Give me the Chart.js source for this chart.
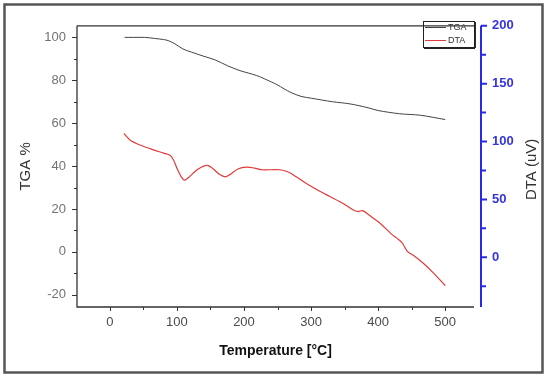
<!DOCTYPE html>
<html>
<head>
<meta charset="utf-8">
<script src="https://cdn.jsdelivr.net/npm/chart.js@4.4.1/dist/chart.umd.min.js"></script>
<style>
html,body{margin:0;padding:0;background:#fff;}
#wrap{width:550px;height:377px;position:relative;}
</style>
</head>
<body>
<div id="wrap"><canvas id="c" width="550" height="377"></canvas></div>
<script>
// ---- data ----
const tgaTemp = [22, 35, 52, 67, 80, 87, 97, 109, 122, 139, 157, 176, 194, 219, 241, 249, 260, 270, 285, 301, 332, 358, 385, 400, 432, 463, 500];
const tgaVals = [100, 100, 100, 99.5, 99, 98.5, 97, 94.6, 93.1, 91.3, 89.5, 86.7, 84.5, 82.2, 79.2, 78, 76, 74.3, 72.5, 71.6, 70, 69, 67.2, 65.9, 64.4, 63.7, 61.7];
const dtaTemp = [21, 23, 30, 45, 65, 80, 90, 95, 100, 106, 111, 117, 130, 142, 147, 154, 164, 172, 179, 191, 204, 216, 226, 253, 266, 278, 293, 313, 328, 348, 363, 370, 377, 387, 402, 415, 420, 435, 444, 452, 467, 482, 500];
const dtaVals = [107, 105.6, 101.4, 97, 92.8, 90, 88, 84, 77, 70, 66.7, 68.7, 75.6, 79.2, 79.2, 76.4, 71.4, 69.5, 71.4, 76.2, 77.8, 77, 75.6, 75.6, 73.7, 69.5, 63.7, 57, 52.5, 46.4, 40.8, 39.5, 40.3, 36.2, 29.8, 22.8, 20, 13, 4.8, 2, -5, -13.3, -24.4];
const seriesNames = ['TGA', 'DTA'];
const xTicks = [0, 100, 200, 300, 400, 500];
const tgaTicks = [-20, 0, 20, 40, 60, 80, 100];
const dtaTicks = [0, 50, 100, 150, 200];
const rightTitle = 'DTA (uV)';

const F = '"Liberation Sans", Arial, sans-serif';

const frame = {
  id: 'frame',
  beforeDraw(chart) {
    const ctx = chart.ctx;
    ctx.save();
    ctx.fillStyle = '#fff';
    ctx.fillRect(0, 0, chart.width, chart.height);
    ctx.restore();
  },
  afterDraw(chart) {
    const ctx = chart.ctx;
    const a = chart.chartArea;
    const xs = chart.scales.x, yl = chart.scales.y, yr = chart.scales.y2;
    ctx.save();
    // outer border
    ctx.strokeStyle = '#555';
    ctx.lineWidth = 2.5;
    ctx.strokeRect(4.5, 4.5, 538, 368);
    // axes frame (left, bottom, top)
    ctx.strokeStyle = '#333';
    ctx.lineWidth = 1.3;
    ctx.beginPath();
    ctx.moveTo(a.left, a.top); ctx.lineTo(a.left, a.bottom); ctx.lineTo(a.right, a.bottom);
    ctx.moveTo(a.left, a.top); ctx.lineTo(a.right, a.top);
    ctx.stroke();
    // left ticks (major & minor)
    ctx.lineWidth = 1;
    ctx.beginPath();
    for (let v = -20; v <= 100; v += 10) {
      const y = Math.round(yl.getPixelForValue(v)) + 0.5;
      const len = (v % 20 === 0) ? 5 : 3;
      ctx.moveTo(a.left, y); ctx.lineTo(a.left - len, y);
    }
    for (let v = 0; v <= 500; v += 50) {
      const x = Math.round(xs.getPixelForValue(v)) + 0.5;
      const len = (v % 100 === 0) ? 4 : 3;
      ctx.moveTo(x, a.bottom); ctx.lineTo(x, a.bottom + len);
    }
    ctx.stroke();
    // right blue axis
    const bx = a.right + 7;
    ctx.strokeStyle = '#2a2ae6';
    ctx.lineWidth = 2;
    ctx.beginPath();
    ctx.moveTo(bx, a.top); ctx.lineTo(bx, a.bottom);
    for (let v = -25; v <= 200; v += 25) {
      const y = yr.getPixelForValue(v);
      const len = (v % 50 === 0) ? 6 : 5;
      ctx.moveTo(bx, y); ctx.lineTo(bx + len, y);
    }
    ctx.stroke();
    // right axis title (reads bottom to top)
    ctx.save();
    ctx.translate(532, (a.top + a.bottom) / 2 + 3);
    ctx.rotate(-Math.PI / 2);
    ctx.fillStyle = '#333';
    ctx.font = '15px ' + F;
    ctx.textAlign = 'center';
    ctx.textBaseline = 'middle';
    ctx.fillText(rightTitle, 0, 0);
    ctx.restore();
    // legend box
    const lx = 423, ly = 21, lw = 51, lh = 26;
    ctx.strokeStyle = '#222';
    ctx.lineWidth = 1;
    ctx.strokeRect(lx + 0.5, ly + 0.5, lw, lh);
    ctx.lineWidth = 1.5;
    ctx.beginPath();
    ctx.moveTo(lx + 1, ly + lh + 1.2); ctx.lineTo(lx + lw + 1, ly + lh + 1.2);
    ctx.moveTo(lx + lw + 1.2, ly + 1); ctx.lineTo(lx + lw + 1.2, ly + lh + 1);
    ctx.stroke();
    const ds = chart.data.datasets;
    const rows = [27, 40];
    ds.forEach((d, i) => {
      ctx.strokeStyle = d.borderColor;
      ctx.lineWidth = 1;
      ctx.beginPath();
      ctx.moveTo(lx + 2, rows[i] + 0.5); ctx.lineTo(lx + 23, rows[i] + 0.5);
      ctx.stroke();
      ctx.fillStyle = '#333';
      ctx.font = '9px ' + F;
      ctx.textBaseline = 'middle';
      ctx.textAlign = 'left';
      ctx.fillText(d.label, lx + 25, rows[i] + 1);
    });
    ctx.restore();
  }
};

new Chart(document.getElementById('c'), {
  type: 'line',
  data: {
    datasets: [
      {
        label: seriesNames[0],
        data: tgaTemp.map((t, i) => ({x: t, y: tgaVals[i]})),
        borderColor: '#454545',
        borderWidth: 1,
        pointRadius: 0,
        tension: 0.3,
        yAxisID: 'y'
      },
      {
        label: seriesNames[1],
        data: dtaTemp.map((t, i) => ({x: t, y: dtaVals[i]})),
        borderColor: '#e23a3a',
        borderWidth: 1.2,
        pointRadius: 0,
        tension: 0.3,
        yAxisID: 'y2'
      }
    ]
  },
  options: {
    responsive: false,
    animation: false,
    devicePixelRatio: 1,
    layout: {padding: {top: 17, left: 0, right: 0, bottom: 0}},
    plugins: {legend: {display: false}, tooltip: {enabled: false}},
    scales: {
      x: {
        type: 'linear',
        min: -49, max: 543,
        afterFit(s) { s.height = 70; },
        afterBuildTicks(s) { s.ticks = xTicks.map(v => ({value: v})); },
        grid: {display: false, drawTicks: false, tickLength: 0},
        border: {display: false},
        ticks: {padding: 8, color: '#4a4a4a', font: {family: F, size: 13}, maxRotation: 0},
        title: {display: true, text: 'Temperature [°C]', color: '#111',
                font: {family: F, size: 14, weight: 'bold'}, padding: {top: 0, bottom: 17}}
      },
      y: {
        type: 'linear', position: 'left',
        min: -25.7, max: 105.4,
        afterFit(s) { s.width = 77; },
        afterBuildTicks(s) { s.ticks = tgaTicks.map(v => ({value: v})); },
        grid: {display: false, drawTicks: false, tickLength: 0},
        border: {display: false},
        ticks: {padding: 11, color: '#727272', font: {family: F, size: 13}},
        title: {display: true, text: 'TGA %', color: '#333',
                font: {family: F, size: 15}, padding: {top: 17, bottom: 0}}
      },
      y2: {
        type: 'linear', position: 'right',
        min: -43, max: 200,
        afterFit(s) { s.width = 76; },
        afterBuildTicks(s) { s.ticks = dtaTicks.map(v => ({value: v})); },
        grid: {display: false, drawTicks: false, tickLength: 0},
        border: {display: false},
        ticks: {padding: 18, color: '#3535e0', font: {family: F, size: 13, weight: 'bold'}},
        title: {display: false}
      }
    }
  },
  plugins: [frame]
});
</script>
</body>
</html>
